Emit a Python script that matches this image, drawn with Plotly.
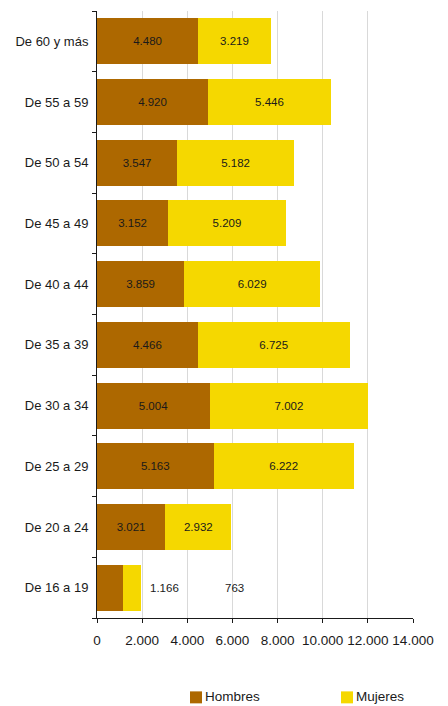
import plotly.graph_objects as go

categories = ["De 16 a 19", "De 20 a 24", "De 25 a 29", "De 30 a 34", "De 35 a 39",
              "De 40 a 44", "De 45 a 49", "De 50 a 54", "De 55 a 59", "De 60 y más"]
hombres = [1166, 3021, 5163, 5004, 4466, 3859, 3152, 3547, 4920, 4480]
mujeres = [763, 2932, 6222, 7002, 6725, 6029, 5209, 5182, 5446, 3219]
x_ticks = [0, 2000, 4000, 6000, 8000, 10000, 12000, 14000]
series_names = ["Hombres", "Mujeres"]

BROWN = "#AD6800"
YELLOW = "#F5D800"
FONT = "Liberation Sans, Arial, sans-serif"
OFF = 8  # default page body margin
W, H = 448 - OFF, 706 - OFF
ML, MT = 97 - OFF, 10.5 - OFF
MR = W - (413 - OFF)
MB = H - (618.5 - OFF)
PW, PH = W - ML - MR, H - MT - MB

def fmt(v):
    return f"{v:,}".replace(",", ".")

# small first bar: labels are drawn outside the bar as annotations
h_text = ["" if i == 0 else fmt(v) for i, v in enumerate(hombres)]
m_text = ["" if i == 0 else fmt(v) for i, v in enumerate(mujeres)]

fig = go.Figure()
fig.add_trace(go.Bar(y=categories, x=hombres, name=series_names[0], orientation="h",
                     marker=dict(color=BROWN, line=dict(width=0)),
                     text=h_text, textposition="inside", insidetextanchor="middle",
                     textfont=dict(color="#1a1a1a", size=11.5, family=FONT),
                     hoverinfo="x+name", showlegend=False))
fig.add_trace(go.Bar(y=categories, x=mujeres, name=series_names[1], orientation="h",
                     marker=dict(color=YELLOW, line=dict(width=0)),
                     text=m_text, textposition="inside", insidetextanchor="middle",
                     textfont=dict(color="#1a1a1a", size=11.5, family=FONT),
                     hoverinfo="x+name", showlegend=False))

fig.add_annotation(x=3000, y=categories[0], text=fmt(hombres[0]), showarrow=False,
                   font=dict(size=11.5, color="#1a1a1a", family=FONT))
fig.add_annotation(x=6100, y=categories[0], text=fmt(mujeres[0]), showarrow=False,
                   font=dict(size=11.5, color="#1a1a1a", family=FONT))

# legend (positions given in page pixels, converted to paper coordinates)
def px_x(p):
    return (p - OFF - ML) / PW
def px_y(p):
    return (H - MB - (p - OFF)) / PH

for name, color, x0 in [(series_names[0], BROWN, 190), (series_names[1], YELLOW, 341)]:
    fig.add_shape(type="rect", xref="paper", yref="paper",
                  x0=px_x(x0), x1=px_x(x0 + 12),
                  y0=px_y(692), y1=px_y(704),
                  fillcolor=color, line=dict(width=0))
    fig.add_annotation(xref="paper", yref="paper",
                       x=px_x(x0 + 13), y=px_y(697),
                       xanchor="left", yanchor="middle", text=name, showarrow=False,
                       font=dict(size=13.5, color="#1a1a1a", family=FONT))

fig.update_layout(
    width=W, height=H,
    barmode="stack", bargap=0.243,
    plot_bgcolor="white", paper_bgcolor="white",
    margin=dict(l=ML, r=MR, t=MT, b=MB, autoexpand=False),
    separators=",.",
    font=dict(family=FONT, size=12, color="#1a1a1a"),
    uniformtext=dict(minsize=8, mode="show"),
    xaxis=dict(range=[0, 14000], tickvals=x_ticks, tickformat=",d",
               showgrid=True, gridcolor="#d9d9d9", gridwidth=1,
               showline=True, linecolor="#1a1a1a", linewidth=1,
               ticks="outside", ticklen=4, tickcolor="#1a1a1a", automargin=False,
               ticklabelstandoff=6,
               tickfont=dict(size=13.5, family=FONT), zeroline=False, fixedrange=True),
    yaxis=dict(categoryorder="array", categoryarray=categories,
               showline=True, linecolor="#1a1a1a", linewidth=1, automargin=False,
               ticks="outside", ticklen=4, tickcolor="#1a1a1a", tickson="boundaries",
               ticklabelstandoff=5,
               tickfont=dict(size=13, family=FONT), showgrid=False, fixedrange=True),
    showlegend=False,
)

fig.write_html("out.html")
